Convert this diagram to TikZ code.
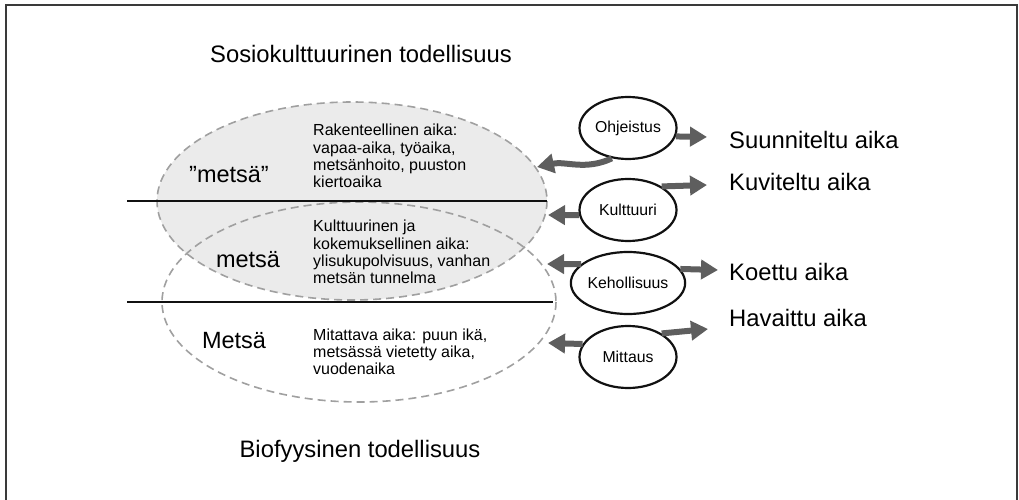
\documentclass[tikz,border=0pt]{standalone}
\usepackage{fontspec}
\setmainfont{Liberation Sans}
\usetikzlibrary{arrows.meta,positioning,shapes.geometric}
\definecolor{forestInk}{HTML}{111111}
\definecolor{forestGrey}{HTML}{5E5E5E}
\definecolor{forestDash}{HTML}{A0A0A0}
\definecolor{forestFill}{HTML}{EBEBEB}
\definecolor{forestFrame}{HTML}{3A3A3A}
\tikzset{
  modeNode/.style={
    ellipse,
    draw=forestInk,
    fill=white,
    line width=2.2pt,
    minimum width=97pt,
    minimum height=62pt,
    inner sep=0pt,
    font=\fontsize{15.8}{17}\selectfont
  },
  timeLabel/.style={
    anchor=west,
    inner sep=0pt,
    font=\fontsize{23.8}{28}\selectfont
  },
  realmLabel/.style={
    inner sep=0pt,
    font=\fontsize{23.8}{28}\selectfont
  },
  forestLabel/.style={
    inner sep=0pt,
    font=\fontsize{23.5}{28}\selectfont
  },
  timeText/.style={
    anchor=west,
    align=left,
    inner sep=0pt,
    font=\fontsize{16}{17.2}\selectfont
  },
  layerLine/.style={
    line width=1.5pt,
    draw=forestInk
  },
  forestRing/.style={
    dash pattern=on 8pt off 5pt,
    line width=1.6pt,
    draw=forestDash
  },
  bigArrow/.style={
    -{Triangle[length=17pt,width=19pt]},
    line width=6pt,
    draw=forestGrey
  }
}

\begin{document}
\begin{tikzpicture}[x=1pt,y=-1pt]
  \useasboundingbox (0,0) rectangle (1019,500);
  % frame, open at the bottom
  \draw[line width=1.5pt,draw=forestFrame] (6,500) -- (6,5) -- (1017,5) -- (1017,500);

  % the two forests and the layer lines
  \fill[forestFill] (352,201) ellipse [x radius=195, y radius=99];
  \draw[forestRing] (352,201) ellipse [x radius=195, y radius=99];
  \draw[forestRing] (359,302) ellipse [x radius=197, y radius=100];
  \draw[layerLine] (127,201) -- (547,201);
  \draw[layerLine] (127,302) -- (553,302);

  \node[realmLabel] (socio) at (361,54) {Sosiokulttuurinen todellisuus};
  \node[realmLabel] (bio) at (360,451) {Biofyysinen todellisuus};

  \node[forestLabel] (quoted) at (229,175) {”metsä”};
  \node[forestLabel] (plain) at (248,260) {metsä};
  \node[forestLabel] (capital) at (234,341) {Metsä};

  \node[timeText] (structural) at (313,156) {Rakenteellinen aika:\\vapaa-aika, työaika,\\metsänhoito, puuston\\kiertoaika};
  \node[timeText] (cultural) at (313,252) {Kulttuurinen ja\\kokemuksellinen aika:\\ylisukupolvisuus, vanhan\\metsän tunnelma};
  \node[timeText] (measured) at (313,352) {Mitattava aika: puun ikä,\\metsässä vietetty aika,\\vuodenaika};

  % ways of knowing time
  \node[modeNode] (ohj) at (628,128) {Ohjeistus};
  \node[modeNode] (kul) at (628,210) {Kulttuuri};
  \node[modeNode] (keh) at (628,283) {Kehollisuus};
  \node[modeNode] (mit) at (628,357) {Mittaus};

  \node[timeLabel] (planned) at (729,140) {Suunniteltu aika};
  \node[timeLabel] (imagined) at (729,182) {Kuviteltu aika};
  \node[timeLabel] (lived) at (729,272) {Koettu aika};
  \node[timeLabel] (perceived) at (729,318) {Havaittu aika};

  \coordinate (ohjTip) at (537,167);
  \coordinate (kulTip) at (548,215);
  \coordinate (kehTip) at (547,264);
  \coordinate (mitTip) at (548,343);

  \draw[bigArrow] (ohj.242) to[out=205,in=12] (ohjTip);
  \draw[bigArrow] (kul.186) -- (kulTip);
  \draw[bigArrow] (keh.158) -- (kehTip);
  \draw[bigArrow] (mit.164) -- (mitTip);

  \draw[bigArrow] (ohj.-10) -- ([xshift=-22pt,yshift=3pt]planned.west);
  \draw[bigArrow] (kul.35) -- ([xshift=-22pt,yshift=-3pt]imagined.west);
  \draw[bigArrow] (keh.15) -- ([xshift=-11pt,yshift=2pt]lived.west);
  \draw[bigArrow] (mit.35) -- ([xshift=-21pt,yshift=-11pt]perceived.west);
\end{tikzpicture}
\end{document}
